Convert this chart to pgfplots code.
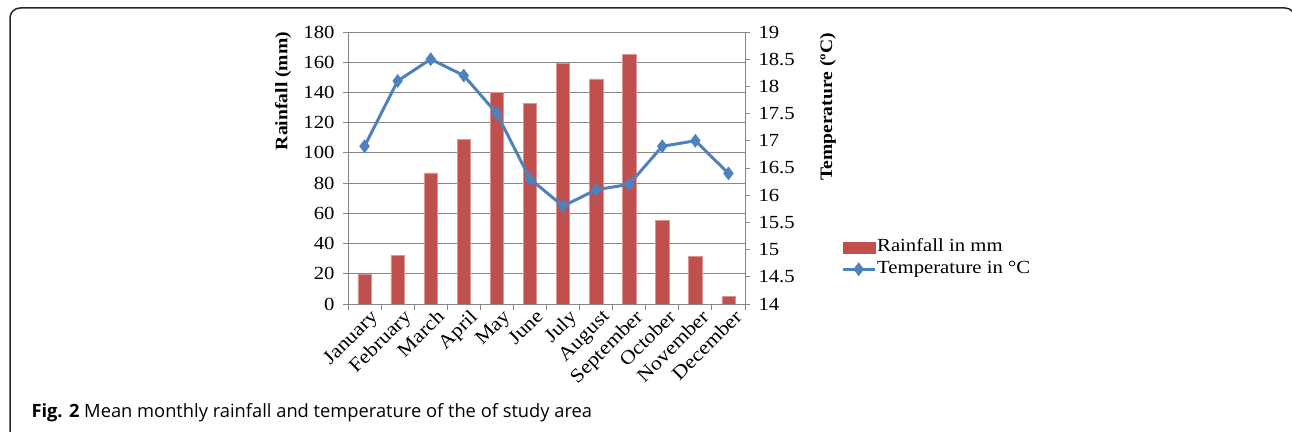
\documentclass[border=0pt]{standalone}
\usepackage{pgfplots}
\pgfplotsset{compat=1.18}
\usepackage{pgfplotstable}
\usepackage{fontspec}
\setmainfont{Liberation Serif}[FakeStretch=1.12]
\newfontfamily\capfont{Open Sans}
\definecolor{rainred}{RGB}{192,80,77}
\definecolor{tempblue}{RGB}{79,129,189}
\definecolor{gridgray}{RGB}{134,134,134}
\newcommand\tf{\fontsize{18.5bp}{21bp}\selectfont}
\newcommand\lf{\fontsize{17.5bp}{20bp}\selectfont}
\newcommand\xf{\fontsize{19.5bp}{22bp}\selectfont}

% month index, rainfall (mm), temperature (C)
\pgfplotstableread{
m rain temp
0 20 16.9
1 32.3 18.1
2 86.7 18.5
3 109 18.2
4 140 17.5
5 132.7 16.3
6 159.3 15.8
7 149 16.1
8 165 16.2
9 55.5 16.9
10 31.6 17.0
11 4.9 16.4
}\climate

\pgfplotsset{
  common/.style={
    at={(348bp,128bp)}, anchor=south west,
    scale only axis, width=397bp, height=272bp,
    xmin=-0.5, xmax=11.5,
    tick align=outside,
    axis line style={gridgray, line width=0.9bp},
    tick style={gridgray, line width=0.9bp},
    major tick length=5bp,
    /pgf/number format/assume math mode=true,
    ticklabel style={font=\tf},
  }
}

\begin{document}
\begin{tikzpicture}
\path[use as bounding box] (0bp,0bp) rectangle (1292bp,432bp);
\draw[line width=1.5bp, black!85, rounded corners=10bp]
  (10bp,-5bp) -- (10bp,424bp) -- (1295bp,424bp) -- (1295bp,380bp);

\begin{axis}[common,
  ymin=0, ymax=180,
  ytick={0,20,...,180},
  xtick={0,...,11},
  xticklabels={January,February,March,April,May,June,July,August,September,October,November,December},
  minor xtick={-0.5,0.5,...,11.5},
  minor tick length=6bp,
  major x tick style={draw=none},
  xtick pos=left, ytick pos=left,
  xticklabel style={font=\xf, rotate=45, anchor=north east, inner sep=1bp, xshift=5bp, yshift=-2bp},
  yticklabel style={xshift=-5bp},
  ymajorgrids,
  major grid style={gridgray, line width=0.9bp},
]
\addplot[ybar, bar width=13.3bp, fill=rainred, draw=rainred!60!white, line width=0.5bp]
  table[x=m, y=rain] {\climate};
\end{axis}

\begin{axis}[common,
  ymin=14, ymax=19,
  ytick={14,14.5,...,19},
  axis x line=none,
  axis y line*=right,
  yticklabel style={xshift=5bp},
  legend style={draw=none, fill=none, inner sep=0pt,
    at={(1.2418,0.2426)}, anchor=north west, font=\tf,
    row sep=4bp, nodes={inner sep=1bp, text height=12bp, text depth=4bp}},
  legend cell align=left,
  legend image code/.code={
    \draw[mark repeat=2, mark phase=2, #1] plot coordinates {(0bp,0bp) (16bp,0bp) (32bp,0bp)};
  },
]
\addlegendimage{legend image code/.code={\fill[rainred] (0bp,-5.5bp) rectangle (32bp,5.5bp);}}
\addlegendentry{Rainfall in mm}
\addplot[tempblue, line width=3bp, mark=diamond*, mark size=6.5bp,
  mark options={fill=tempblue, line width=0.5bp}]
  table[x=m, y=temp] {\climate};
\addlegendentry{Temperature in °C}
\end{axis}

\node[rotate=90, font=\bfseries\lf] at (283bp,341bp) {Rainfall (mm)};
\node[rotate=90, font=\bfseries\lf] at (828bp,325bp) {Temperature (ºC)};
\node[anchor=base west, font=\capfont\fontsize{18.3bp}{22bp}\selectfont]
  at (28bp,15bp) {\textbf{Fig. 2} Mean monthly rainfall and temperature of the of study area};
\end{tikzpicture}
\end{document}
